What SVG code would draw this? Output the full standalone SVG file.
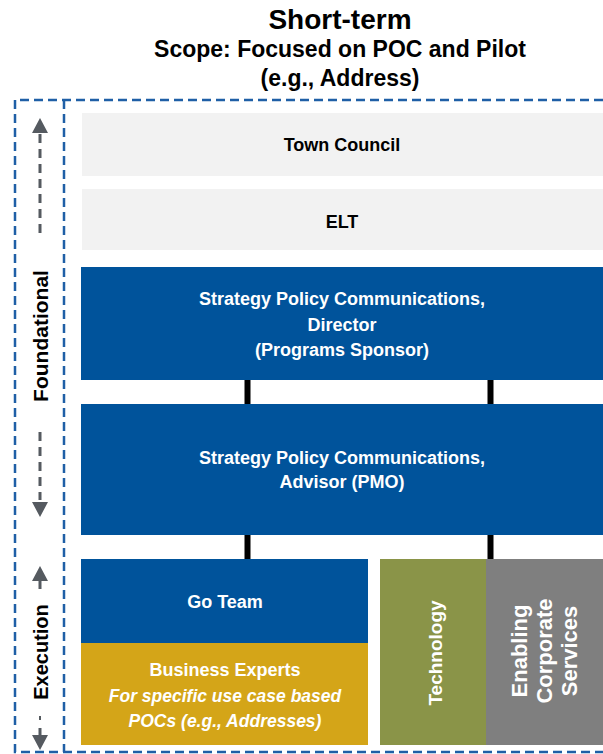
<svg xmlns="http://www.w3.org/2000/svg" width="603" height="754" viewBox="0 0 603 754">
<style>
text{font-family:"Liberation Sans",Arial,sans-serif;font-weight:bold;text-anchor:middle}
.w{fill:#ffffff;font-size:18px}
.k{fill:#000000;font-size:18px}
.it{font-style:italic}
.frame{fill:none;stroke:#1f5fa6;stroke-width:2.5;stroke-dasharray:9 5}
.arr{stroke:#555a60;stroke-width:3;stroke-dasharray:9 6;fill:none}
.head{fill:#555a60}
.conn{fill:#000000}
</style>
<g id="title">
<text x="340" y="29" style="font-size:28px;fill:#000">Short-term</text>
<text x="340" y="57" style="font-size:23px;fill:#000">Scope: Focused on POC and Pilot</text>
<text x="340" y="86" style="font-size:23px;fill:#000">(e.g., Address)</text>
</g>
<g id="frame">
<path class="frame" d="M603 100 H15 V752 H603"/>
<path class="frame" d="M64 100 V752"/>
</g>
<g id="foundational-axis">
<polygon class="head" points="40,118 32,133 48,133"/>
<path class="arr" d="M40 134 V236"/>
<text x="0" y="0" transform="translate(48,336) rotate(-90)" style="font-size:21px;fill:#000">Foundational</text>
<path class="arr" d="M40 432 V500"/>
<polygon class="head" points="40,517 32,502 48,502"/>
</g>
<g id="execution-axis">
<polygon class="head" points="40,566 32,581 48,581"/>
<path d="M40 581 V589" stroke="#555a60" stroke-width="3"/>
<text x="0" y="0" transform="translate(48,652) rotate(-90)" style="font-size:20px;fill:#000">Execution</text>
<path d="M40 716 V720" stroke="#555a60" stroke-width="2"/>
<path d="M40 728 V736" stroke="#555a60" stroke-width="3"/>
<polygon class="head" points="40,750 32,735 48,735"/>
</g>
<g id="town-council">
<rect x="82" y="113" width="521" height="63" fill="#f2f2f2"/>
<text class="k" x="342" y="151">Town Council</text>
</g>
<g id="elt">
<rect x="82" y="189" width="521" height="61" fill="#f2f2f2"/>
<text class="k" x="342" y="228">ELT</text>
</g>
<g id="director">
<rect x="81" y="267" width="522" height="113" fill="#00539b"/>
<text class="w" x="342" y="305">Strategy Policy Communications,</text>
<text class="w" x="342" y="331">Director</text>
<text class="w" x="342" y="356">(Programs Sponsor)</text>
</g>
<g id="advisor">
<rect x="81" y="404" width="522" height="131" fill="#00539b"/>
<text class="w" x="342" y="464">Strategy Policy Communications,</text>
<text class="w" x="342" y="488">Advisor (PMO)</text>
</g>
<g id="go-team">
<rect x="81" y="559" width="287" height="84" fill="#00539b"/>
<text class="w" x="225" y="608">Go Team</text>
</g>
<g id="business-experts">
<rect x="81" y="643" width="287" height="102" fill="#d4a518"/>
<text class="w" x="225" y="676">Business Experts</text>
<text class="w it" x="225" y="702" style="font-size:17.5px">For specific use case based</text>
<text class="w it" x="225" y="727" style="font-size:17.5px">POCs (e.g., Addresses)</text>
</g>
<g id="technology">
<rect x="380" y="559" width="106" height="186" fill="#8a9448"/>
<text class="w" x="0" y="0" transform="translate(442,653) rotate(-90)" style="font-size:19px">Technology</text>
</g>
<g id="enabling-corporate-services">
<rect x="486" y="559" width="117" height="186" fill="#7f7f7f"/>
<text class="w" x="0" y="0" transform="translate(527,651) rotate(-90)" style="font-size:22px">Enabling</text>
<text class="w" x="0" y="0" transform="translate(552,651) rotate(-90)" style="font-size:22px">Corporate</text>
<text class="w" x="0" y="0" transform="translate(577,651) rotate(-90)" style="font-size:22px">Services</text>
</g>
<g id="connectors">
<rect class="conn" x="244.5" y="380" width="6" height="24"/>
<rect class="conn" x="487.5" y="380" width="6" height="24"/>
<rect class="conn" x="244.5" y="535" width="6" height="24"/>
<rect class="conn" x="487.5" y="535" width="6" height="24"/>
</g>
</svg>
